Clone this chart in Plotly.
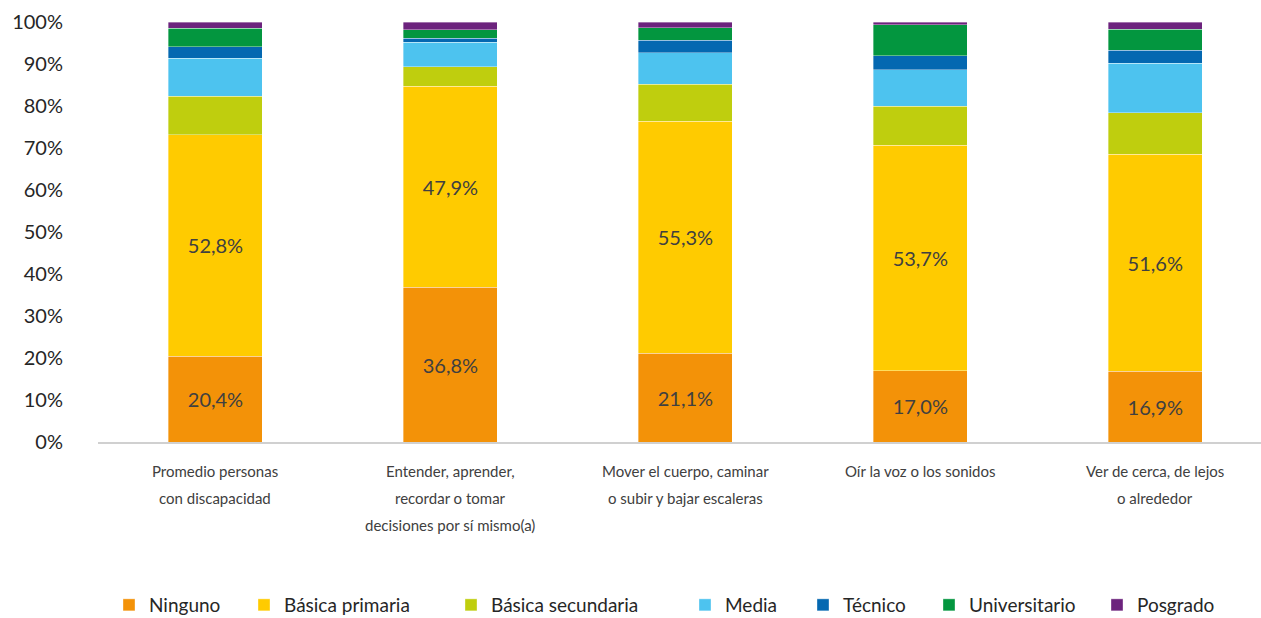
import plotly.graph_objects as go

categories = [
    "Promedio personas<br>con discapacidad",
    "Entender, aprender,<br>recordar o tomar<br>decisiones por sí mismo(a)",
    "Mover el cuerpo, caminar<br>o subir y bajar escaleras",
    "Oír la voz o los sonidos",
    "Ver de cerca, de lejos<br>o alrededor",
]

ninguno = [20.4, 36.8, 21.1, 17.0, 16.9]
basica_primaria = [52.8, 47.9, 55.3, 53.7, 51.6]
basica_secundaria = [9.1, 4.7, 8.8, 9.3, 9.9]
media = [9.1, 5.8, 7.5, 8.6, 11.8]
tecnico = [2.7, 0.9, 2.9, 3.4, 3.1]
universitario = [4.4, 2.0, 3.0, 7.4, 5.0]
posgrado = [1.5, 1.9, 1.4, 0.6, 1.7]

series = [
    ("Ninguno", ninguno, "#F39208", True),
    ("Básica primaria", basica_primaria, "#FFCB00", True),
    ("Básica secundaria", basica_secundaria, "#BFCE0E", False),
    ("Media", media, "#4DC3EF", False),
    ("Técnico", tecnico, "#0468B1", False),
    ("Universitario", universitario, "#03963F", False),
    ("Posgrado", posgrado, "#6C237D", False),
]

# left edge (px) of each legend swatch along the bottom row
legend_px = [124, 259, 466, 700, 818, 944, 1112]

font_family = "Lato, 'Open Sans', sans-serif"
W, H = 1261, 618
ML, MR, MT, MB = 98, 0, 22, 176
plot_w = W - ML - MR
plot_h = H - MT - MB

fig = go.Figure()
legend_layouts = {}
for i, (name, values, color, labelled) in enumerate(series):
    legend_key = "legend" if i == 0 else f"legend{i + 1}"
    fig.add_trace(go.Bar(
        name=name,
        x=categories,
        y=values,
        legend=legend_key,
        marker=dict(color=color, line=dict(color="rgba(255,255,255,0.6)", width=0.6)),
        text=[f"{v:.1f}%".replace(".", ",") for v in values] if labelled else None,
        textposition="inside" if labelled else "none",
        insidetextanchor="middle",
        textfont=dict(size=20, color="#404040", family=font_family),
        hoverinfo="name+y",
    ))
    legend_layouts[legend_key] = dict(
        x=(legend_px[i] - ML - 15) / plot_w,
        xanchor="left",
        y=(MT + plot_h - 605) / plot_h,
        yanchor="middle",
        orientation="h",
        font=dict(size=19, color="#262626"),
        bgcolor="rgba(0,0,0,0)",
        itemwidth=30,
    )

# category labels, one annotation per text line for wider line spacing
for ci, cat in enumerate(categories):
    for li, line in enumerate(cat.split("<br>")):
        fig.add_annotation(
            x=ci, xref="x",
            y=0, yref="paper",
            yshift=-(29 + 27 * li),
            text=line,
            showarrow=False,
            xanchor="center",
            yanchor="middle",
            font=dict(size=15, color="#404040", family=font_family),
        )

fig.update_layout(
    barmode="stack",
    bargap=0.6,
    width=W,
    height=H,
    margin=dict(l=ML, r=MR, t=MT, b=MB, autoexpand=False),
    paper_bgcolor="white",
    plot_bgcolor="white",
    font=dict(family=font_family, color="#404040"),
    showlegend=True,
    xaxis=dict(
        range=[-0.5, 4.45],
        showline=True,
        linecolor="#D0D0D0",
        linewidth=1.5,
        showticklabels=False,
        ticks="",
        showgrid=False,
    ),
    yaxis=dict(
        range=[0, 100],
        tickvals=[0, 10, 20, 30, 40, 50, 60, 70, 80, 90, 100],
        ticktext=[f"{v}%" for v in range(0, 101, 10)],
        tickfont=dict(size=20, color="#262626"),
        showgrid=False,
        zeroline=False,
        ticklabelstandoff=34,
    ),
    **legend_layouts,
)

fig.write_html("out.html")
